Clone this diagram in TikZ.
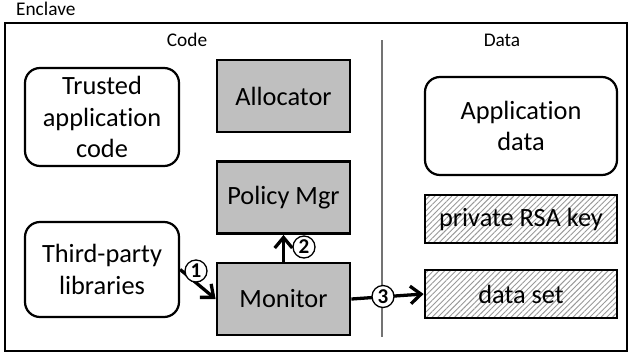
\documentclass[tikz,border=0pt]{standalone}
\usepackage{fontspec}
\setmainfont{Carlito}[Ligatures=NoCommon]
\usetikzlibrary{calc,arrows.meta,positioning,patterns.meta}

\tikzset{
    box/.style={draw,line width=2.4pt,align=center,inner sep=0pt,font=\fontsize{22.5}{27}\selectfont},
    soft/.style={box,line width=1.9pt,rounded corners=0.45cm,minimum width=4.62cm},
    part/.style={box,fill=black!25,minimum width=3.99cm,minimum height=2.16cm},
    secret/.style={box,pattern={Lines[angle=45,distance=3.4pt,line width=0.8pt]},pattern color=black!40,minimum width=5.76cm,minimum height=1.44cm},
    num/.style={circle,draw,fill=white,line width=1.1pt,inner sep=0pt,minimum size=0.66cm,font=\fontsize{18}{18}\selectfont\bfseries},
    flow/.style={-{Straight Barb[length=9pt,width=15pt]},line width=2.8pt},
    tag/.style={font=\fontsize{16.5}{16.5}\selectfont}
}

\begin{document}
\begin{tikzpicture}[x=0.03cm,y=-0.03cm]
        \useasboundingbox (0,0) rectangle (631,355);
        \coordinate (E1) at (5,23);
        \coordinate (E2) at (627,351);
        \coordinate (D1) at (382,40);
        \coordinate (D2) at (382,337);
        
        \draw[line width=2.5pt] (E1) rectangle (E2);
        \draw[black!55,line width=1.1pt] (D1) -- (D2);
        
        \node[tag,anchor=west] (encl) at (12,9) {Enclave};
        \node[tag] (code) at (187,40) {Code};
        \node[tag] (data) at (502,40) {Data};
        
        % code side
        \node[soft,minimum height=2.94cm] (trust) at (102,117) {Trusted\\application\\code};
        \node[soft,minimum height=2.85cm] (third) at (102,269.5) {Third-party\\libraries};
        \node[part] (alloc) at (283.5,96) {Allocator};
        \node[part] (policy) at (283.5,197.5) {Policy Mgr};
        \node[part] (mon) at (283.5,299) {Monitor};
        
        % data side
        \node[soft,minimum width=5.76cm,minimum height=2.94cm] (appdata) at (521,126) {Application\\data};
        \node[secret] (rsa) at (521,219) {private RSA key};
        \node[secret] (dset) at (521,294) {data set};
        
        \draw[flow] (third.east) -- (mon.west);
        \draw[flow] (mon.north) -- (policy.south);
        \draw[flow] (mon.east) -- (dset.west);
        
        \node[num] (n1) at (196,271) {1};
        \node[num] (n2) at (304,247) {2};
        \node[num] (n3) at (383,296.5) {3};
    \end{tikzpicture}
\end{document}
